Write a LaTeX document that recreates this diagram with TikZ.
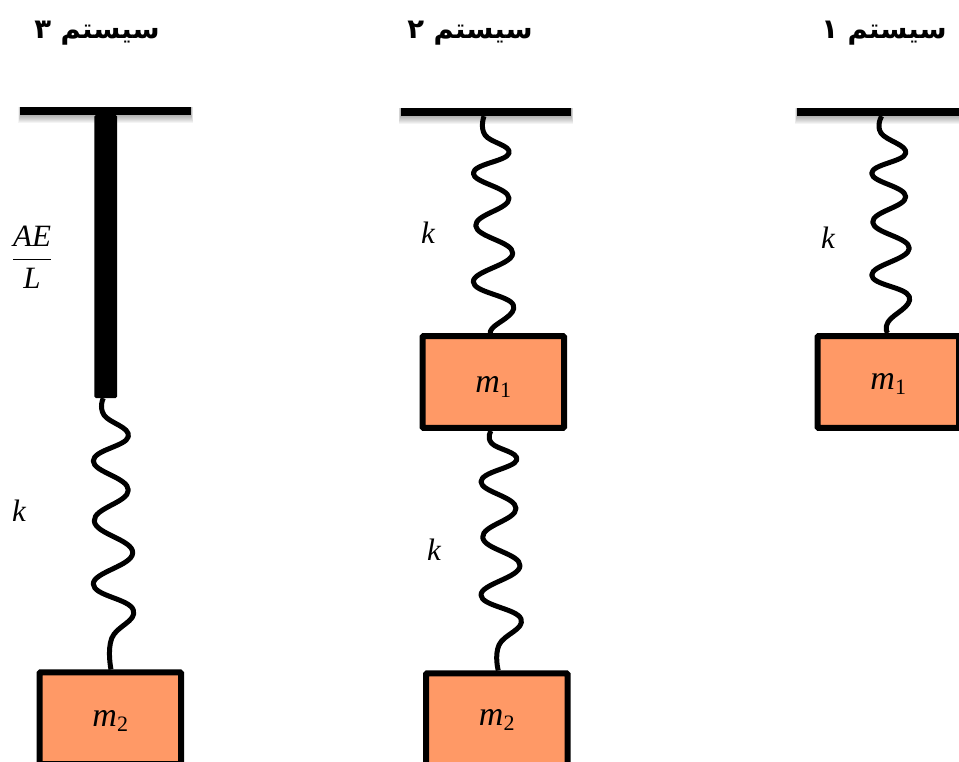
\RequirePackage{fix-cm}
\documentclass[tikz,border=0pt]{standalone}
\usepackage{fontspec}
\newfontfamily\arabicfont[Script=Arabic]{DejaVu Sans}
\newfontfamily\symfont{Liberation Serif}
\TeXXeTstate=1
\definecolor{massfill}{HTML}{FF9966}
\newcommand{\massname}[3]{\raisebox{-#3pt}[0pt][0pt]{{\symfont\fontsize{34}{36}\selectfont\itshape #1}\raisebox{-5pt}{\symfont\fontsize{22}{24}\selectfont #2}}}
\tikzset{
  ceil/.style={fill=black,inner sep=0pt,minimum width=170.5pt,minimum height=8pt},
  rodbar/.style={fill=black,inner sep=0pt,minimum width=22.7pt,minimum height=283pt,rounded corners=1.5pt},
  mass/.style={draw=black,fill=massfill,line width=6pt,rounded corners=1pt,inner sep=0pt,minimum width=141.5pt,minimum height=91.7pt},
  springline/.style={line width=5pt,line join=round},
  title/.style={inner sep=0pt,font=\arabicfont\bfseries\fontsize{27.5}{32}\selectfont},
  lab/.style={inner sep=0pt,font=\symfont\itshape\fontsize{31}{34}\selectfont}
}
\newcommand{\ceilshadow}[1]{%
  \foreach \i in {1,...,8}{%
    \fill[black,opacity=.045] ([shift={(-0.25*\i pt,0pt)}]#1.north west) rectangle ([shift={(0.25*\i pt,-\i pt)}]#1.south east);
  }%
}
\begin{document}
\begin{tikzpicture}[x=1pt,y=-1pt]
\useasboundingbox (0,0) rectangle (959,762);
% titles
\node[title] (t3) at (97,33) {\beginR سیستم ۳\endR};
\node[title] (t2) at (470,33) {\beginR سیستم ۲\endR};
\node[title] (t1) at (884,33) {\beginR سیستم ۱\endR};
% supports
\node[ceil] (c3) at (105.7,111) {};
\node[ceil] (c2) at (486,112) {};
\node[ceil] (c1) at (882.5,112) {};
\ceilshadow{c3}\ceilshadow{c2}\ceilshadow{c1}
\node[ceil] at (c3) {};
\node[ceil] at (c2) {};
\node[ceil] at (c1) {};
\node[rodbar] (r3) at (105.7,256.5) {};
% masses
\node[mass] (m11) at (888.25,382) {\massname{m}{1}{7}};
\node[mass] (m21) at (493.25,382) {\massname{m}{1}{10}};
\node[mass] (m22) at (496.75,719.3) {\massname{m}{2}{6}};
\node[mass] (m32) at (110.25,718.3) {\massname{m}{2}{8}};
% spring ends
\coordinate (a1) at ([xshift=-0.8pt]c1.south);
\coordinate (b1) at ([xshift=-0.5pt]m11.north);
\coordinate (a2) at ([xshift=-2pt]c2.south);
\coordinate (b2) at ([xshift=-1.5pt]m21.north);
\coordinate (a3) at ([xshift=-2.2pt]m21.south);
\coordinate (b3) at ([xshift=1.5pt]m22.north);
\coordinate (a4) at ([xshift=-2.4pt]r3.south);
\coordinate (b4) at ([xshift=0.75pt]m32.north);
% springs
\draw[springline] plot[smooth,tension=0.75] coordinates {(a1) (881,133) (905.7,153.3) (871.7,173.3) (905.7,196.7) (872.7,222.3) (909.3,248.3) (871.7,275) (909.3,296.7) (888.3,321.7) (b1)};
\draw[springline] plot[smooth,tension=0.75] coordinates {(a2) (485,135) (509,153.3) (473.3,173.3) (509,198.3) (475.7,225.7) (512.7,253.3) (473.3,281.7) (513.3,305) (492.3,328.3) (b2)};
\draw[springline] plot[smooth,tension=0.75] coordinates {(a3) (491.7,443.3) (516.7,460) (481,481.7) (516,508.3) (482.7,537.3) (520,565.7) (481,595) (521,619) (499,645) (b3)};
\draw[springline] plot[smooth,tension=0.75] coordinates {(a4) (104,415) (128.3,436.7) (93.3,461) (128.3,490) (94.3,521) (132.7,552.7) (93.3,584) (133.3,610) (111.7,638.3) (b4)};
% labels
\node[lab] (k1) at (828,238) {k};
\node[lab] (k2) at (428,233) {k};
\node[lab] (k3) at (434,550) {k};
\node[lab] (k4) at (19,511) {k};
\node[lab] (ael) at (32,257) {$\displaystyle{\hbox{AE}\above1.6pt\hbox{L}}$};
\end{tikzpicture}
\end{document}
